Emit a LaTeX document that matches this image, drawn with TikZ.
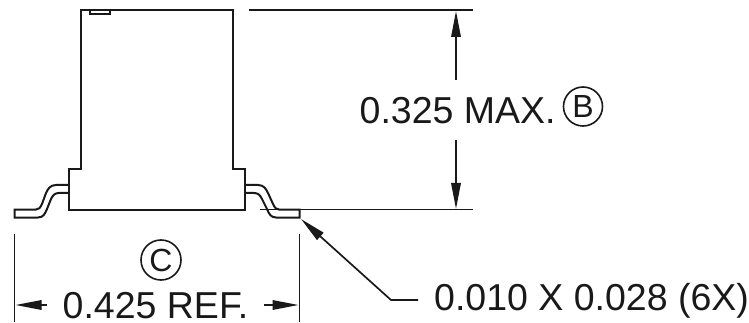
\documentclass[tikz,border=0pt]{standalone}
\usepackage{fontspec}
\setmainfont{Liberation Sans}
\usetikzlibrary{arrows.meta}
\tikzset{
  part/.style={line width=2pt,line join=miter,black!90},
  dimline/.style={line width=1.7pt,black!90},
  dimarrow/.style={dimline,-{Triangle[length=26pt,width=9.5pt]}},
  label/.style={inner sep=0pt,anchor=base west,font=\fontsize{37.5}{37.5}\selectfont,text=black!90},
  circled/.style={circle,draw=black!90,line width=1.6pt,inner sep=0pt,font=\fontsize{32}{32}\selectfont,text=black!90}
}
\begin{document}
\begin{tikzpicture}[x=1pt,y=-1pt]
\useasboundingbox (0,0) rectangle (749,323);
% body
\draw[part] (81,169) -- (81,10) -- (233,10) -- (233,169) -- (245,169) -- (245,210) -- (69,210) -- (69,169) -- cycle;
\draw[part,line width=1.7pt] (90,10) -- (90,14) -- (110,14) -- (110,10);
% leads
\draw[part] (69,185) -- (56,185) .. controls (50,185) and (48,189) .. (46,193) -- (42,204) .. controls (40,208) and (39,209.5) .. (36,209.5) -- (14.5,209.5) -- (14.5,217.5) -- (38,217.5) .. controls (43,217.5) and (45,214) .. (47,209) -- (51,199) .. controls (53,195) and (55,193) .. (59,193) -- (69,193);
\draw[part] (245,185) -- (258,185) .. controls (264,185) and (266,189) .. (268,193) -- (273,204) .. controls (275,208) and (276,209.5) .. (279,209.5) -- (299.5,209.5) -- (299.5,217.5) -- (276,217.5) .. controls (271,217.5) and (269,214) .. (267,209) -- (262,199) .. controls (260,195) and (258,193) .. (254,193) -- (245,193);
% extension lines
\coordinate (topA) at (249,10);
\coordinate (topB) at (473,10);
\coordinate (botA) at (260,209.5);
\coordinate (botB) at (473,209.5);
\draw[dimline] (topA) -- (topB);
\draw[dimline] (botA) -- (botB);
\coordinate (dimLa) at (14.5,234);
\coordinate (dimLb) at (14.5,322);
\coordinate (dimRa) at (299.5,234);
\coordinate (dimRb) at (299.5,322);
\draw[dimline] (dimLa) -- (dimLb);
\draw[dimline] (dimRa) -- (dimRb);
% height dimension
\coordinate (hUp) at (456,80);
\coordinate (hUpT) at (456,11);
\coordinate (hDn) at (456,140);
\coordinate (hDnT) at (456,209);
\draw[dimarrow] (hUp) -- (hUpT);
\draw[dimarrow] (hDn) -- (hDnT);
% width dimension
\coordinate (wL) at (47,305);
\coordinate (wLT) at (15.5,305);
\coordinate (wR) at (264,305);
\coordinate (wRT) at (298.5,305);
\draw[dimarrow] (wL) -- (wLT);
\draw[dimarrow] (wR) -- (wRT);
% leader
\coordinate (ldA) at (418,300);
\coordinate (ldB) at (391,300);
\coordinate (ldT) at (301,219);
\draw[dimarrow] (ldA) -- (ldB) -- (ldT);
% labels
\node[label] (tH) at (359.5,124) {0.325 MAX.};
\node[label] (tW) at (62.5,318) {0.425 REF.};
\node[label] (tL) at (434,310) {0.010 X 0.028 (6X)};
\node[circled,minimum size=39pt] (cB) at (583,106.5) {B};
\node[circled,minimum size=40pt] (cC) at (161,260) {C};
\end{tikzpicture}
\end{document}
